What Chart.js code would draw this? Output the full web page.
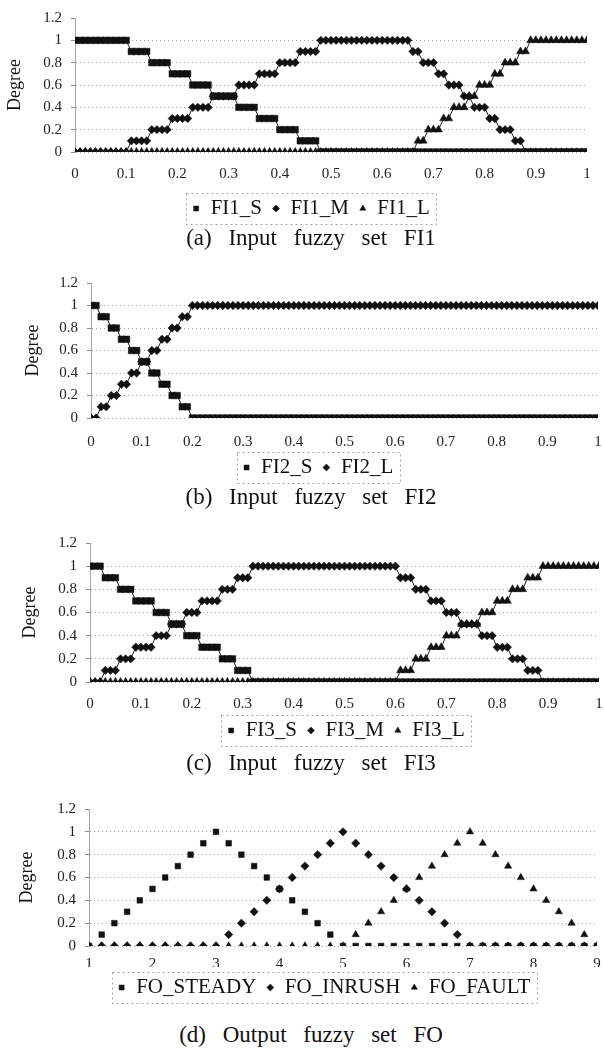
<!DOCTYPE html>
<html><head><meta charset="utf-8">
<script src="https://cdn.jsdelivr.net/npm/chart.js@4.4.1/dist/chart.umd.min.js"></script>
<style>
html,body{margin:0;padding:0;background:#fff;width:604px;height:1052px;overflow:hidden;position:relative;}
canvas{position:absolute;left:0;}
.cap{position:absolute;left:0;width:622px;text-align:center;font-family:"Liberation Serif",serif;font-size:23px;color:#111;word-spacing:11px;white-space:nowrap;line-height:23px;}
</style></head><body>
<canvas id="ca" width="622" height="229" style="top:0px"></canvas>
<canvas id="cb" width="636" height="228" style="top:260px"></canvas>
<canvas id="cc" width="692" height="231" style="top:520px"></canvas>
<canvas id="cd" width="648" height="223" style="top:785px"></canvas>
<div class="cap" style="top:226px">(a) Input fuzzy set FI1</div>
<div class="cap" style="top:485px">(b) Input fuzzy set FI2</div>
<div class="cap" style="top:751px">(c) Input fuzzy set FI3</div>
<div class="cap" style="top:1023px">(d) Output fuzzy set FO</div>
<script>
// ---- data ----
const xFine = [0,0.01,0.02,0.03,0.04,0.05,0.06,0.07,0.08,0.09,
0.1,0.11,0.12,0.13,0.14,0.15,0.16,0.17,0.18,0.19,
0.2,0.21,0.22,0.23,0.24,0.25,0.26,0.27,0.28,0.29,
0.3,0.31,0.32,0.33,0.34,0.35,0.36,0.37,0.38,0.39,
0.4,0.41,0.42,0.43,0.44,0.45,0.46,0.47,0.48,0.49,
0.5,0.51,0.52,0.53,0.54,0.55,0.56,0.57,0.58,0.59,
0.6,0.61,0.62,0.63,0.64,0.65,0.66,0.67,0.68,0.69,
0.7,0.71,0.72,0.73,0.74,0.75,0.76,0.77,0.78,0.79,
0.8,0.81,0.82,0.83,0.84,0.85,0.86,0.87,0.88,0.89,
0.9,0.91,0.92,0.93,0.94,0.95,0.96,0.97,0.98,0.99,
1];

const FI1_S = [1,1,1,1,1,1,1,1,1,1,
1,0.9,0.9,0.9,0.9,0.8,0.8,0.8,0.8,0.7,
0.7,0.7,0.7,0.6,0.6,0.6,0.6,0.5,0.5,0.5,
0.5,0.5,0.4,0.4,0.4,0.4,0.3,0.3,0.3,0.3,
0.2,0.2,0.2,0.2,0.1,0.1,0.1,0.1,0,0,
0,0,0,0,0,0,0,0,0,0,
0,0,0,0,0,0,0,0,0,0,
0,0,0,0,0,0,0,0,0,0,
0,0,0,0,0,0,0,0,0,0,
0,0,0,0,0,0,0,0,0,0,
0];
const FI1_M = [0,0,0,0,0,0,0,0,0,0,
0,0.1,0.1,0.1,0.1,0.2,0.2,0.2,0.2,0.3,
0.3,0.3,0.3,0.4,0.4,0.4,0.4,0.5,0.5,0.5,
0.5,0.5,0.6,0.6,0.6,0.6,0.7,0.7,0.7,0.7,
0.8,0.8,0.8,0.8,0.9,0.9,0.9,0.9,1,1,
1,1,1,1,1,1,1,1,1,1,
1,1,1,1,1,1,0.9,0.9,0.8,0.8,
0.8,0.7,0.7,0.6,0.6,0.6,0.5,0.5,0.4,0.4,
0.4,0.3,0.3,0.2,0.2,0.2,0.1,0.1,0,0,
0,0,0,0,0,0,0,0,0,0,
0];
const FI1_L = [0,0,0,0,0,0,0,0,0,0,
0,0,0,0,0,0,0,0,0,0,
0,0,0,0,0,0,0,0,0,0,
0,0,0,0,0,0,0,0,0,0,
0,0,0,0,0,0,0,0,0,0,
0,0,0,0,0,0,0,0,0,0,
0,0,0,0,0,0,0,0.1,0.1,0.2,
0.2,0.2,0.3,0.3,0.4,0.4,0.4,0.5,0.5,0.6,
0.6,0.6,0.7,0.7,0.8,0.8,0.8,0.9,0.9,1,
1,1,1,1,1,1,1,1,1,1,
1];

const FI2_S = [1,1,0.9,0.9,0.8,0.8,0.7,0.7,0.6,0.6,
0.5,0.5,0.4,0.4,0.3,0.3,0.2,0.2,0.1,0.1,
0,0,0,0,0,0,0,0,0,0,
0,0,0,0,0,0,0,0,0,0,
0,0,0,0,0,0,0,0,0,0,
0,0,0,0,0,0,0,0,0,0,
0,0,0,0,0,0,0,0,0,0,
0,0,0,0,0,0,0,0,0,0,
0,0,0,0,0,0,0,0,0,0,
0,0,0,0,0,0,0,0,0,0,
0];
const FI2_L = [0,0,0.1,0.1,0.2,0.2,0.3,0.3,0.4,0.4,
0.5,0.5,0.6,0.6,0.7,0.7,0.8,0.8,0.9,0.9,
1,1,1,1,1,1,1,1,1,1,
1,1,1,1,1,1,1,1,1,1,
1,1,1,1,1,1,1,1,1,1,
1,1,1,1,1,1,1,1,1,1,
1,1,1,1,1,1,1,1,1,1,
1,1,1,1,1,1,1,1,1,1,
1,1,1,1,1,1,1,1,1,1,
1,1,1,1,1,1,1,1,1,1,
1];

const FI3_S = [1,1,1,0.9,0.9,0.9,0.8,0.8,0.8,0.7,
0.7,0.7,0.7,0.6,0.6,0.6,0.5,0.5,0.5,0.4,
0.4,0.4,0.3,0.3,0.3,0.3,0.2,0.2,0.2,0.1,
0.1,0.1,0,0,0,0,0,0,0,0,
0,0,0,0,0,0,0,0,0,0,
0,0,0,0,0,0,0,0,0,0,
0,0,0,0,0,0,0,0,0,0,
0,0,0,0,0,0,0,0,0,0,
0,0,0,0,0,0,0,0,0,0,
0,0,0,0,0,0,0,0,0,0,
0];
const FI3_M = [0,0,0,0.1,0.1,0.1,0.2,0.2,0.2,0.3,
0.3,0.3,0.3,0.4,0.4,0.4,0.5,0.5,0.5,0.6,
0.6,0.6,0.7,0.7,0.7,0.7,0.8,0.8,0.8,0.9,
0.9,0.9,1,1,1,1,1,1,1,1,
1,1,1,1,1,1,1,1,1,1,
1,1,1,1,1,1,1,1,1,1,
1,0.9,0.9,0.9,0.8,0.8,0.8,0.7,0.7,0.7,
0.6,0.6,0.6,0.5,0.5,0.5,0.5,0.4,0.4,0.4,
0.3,0.3,0.3,0.2,0.2,0.2,0.1,0.1,0.1,0,
0,0,0,0,0,0,0,0,0,0,
0];
const FI3_L = [0,0,0,0,0,0,0,0,0,0,
0,0,0,0,0,0,0,0,0,0,
0,0,0,0,0,0,0,0,0,0,
0,0,0,0,0,0,0,0,0,0,
0,0,0,0,0,0,0,0,0,0,
0,0,0,0,0,0,0,0,0,0,
0,0.1,0.1,0.1,0.2,0.2,0.2,0.3,0.3,0.3,
0.4,0.4,0.4,0.5,0.5,0.5,0.5,0.6,0.6,0.6,
0.7,0.7,0.7,0.8,0.8,0.8,0.9,0.9,0.9,1,
1,1,1,1,1,1,1,1,1,1,
1];

const xFO = [1,1.2,1.4,1.6,1.8,2,2.2,2.4,2.6,2.8,3,3.2,3.4,3.6,3.8,4,4.2,4.4,4.6,4.8,
5,5.2,5.4,5.6,5.8,6,6.2,6.4,6.6,6.8,7,7.2,7.4,7.6,7.8,8,8.2,8.4,8.6,8.8,9];
const FO_STEADY = [0,0.1,0.2,0.3,0.4,0.5,0.6,0.7,0.8,0.9,1,0.9,0.8,0.7,0.6,0.5,0.4,0.3,0.2,0.1,
0,0,0,0,0,0,0,0,0,0,0,0,0,0,0,0,0,0,0,0,0];
const FO_INRUSH = [0,0,0,0,0,0,0,0,0,0,0,0.1,0.2,0.3,0.4,0.5,0.6,0.7,0.8,0.9,
1,0.9,0.8,0.7,0.6,0.5,0.4,0.3,0.2,0.1,0,0,0,0,0,0,0,0,0,0,0];
const FO_FAULT = [0,0,0,0,0,0,0,0,0,0,0,0,0,0,0,0,0,0,0,0,
0,0.1,0.2,0.3,0.4,0.5,0.6,0.7,0.8,0.9,1,0.9,0.8,0.7,0.6,0.5,0.4,0.3,0.2,0.1,0];

const yTicksMin = 0, yTicksMax = 1.2, yStep = 0.2;

// ---- drawing ----
Chart.defaults.font.family = "'Liberation Serif', 'Times New Roman', serif";
Chart.defaults.color = '#111';
Chart.defaults.animation = false;

const markerStyles = [
  {pointStyle: 'rect', pointRadius: 4.6},
  {pointStyle: 'rectRot', pointRadius: 4.2},
  {pointStyle: 'triangle', pointRadius: 4.6}
];

const fmt = v => String(Math.round(v * 10) / 10);

const legendBoxPlugin = {
  id: 'legendBox',
  afterDraw(chart) {
    const lg = chart.legend;
    if (!lg || !lg.legendHitBoxes || !lg.legendHitBoxes.length) return;
    const hb = lg.legendHitBoxes;
    let l = Infinity, r = -Infinity, t = Infinity, b = -Infinity;
    hb.forEach(h => { l = Math.min(l, h.left); r = Math.max(r, h.left + h.width); t = Math.min(t, h.top); b = Math.max(b, h.top + h.height); });
    const c = chart.ctx;
    c.save();
    c.strokeStyle = 'rgba(0,0,0,0.45)';
    c.lineWidth = 0.8;
    c.setLineDash([2, 3]);
    c.strokeRect(Math.round(l - 6) + 0.5, Math.round(t - 5) + 0.5, Math.round(r - l + 12), Math.round(b - t + 10));
    c.restore();
  }
};

function makePanel(id, p) {
  const datasets = p.series.map((s, i) => Object.assign({
    label: s.label,
    data: s.data,
    showLine: p.showLine,
    borderColor: '#222',
    borderWidth: 1,
    backgroundColor: '#111',
    pointBackgroundColor: '#111',
    pointBorderColor: '#111',
    pointBorderWidth: 0.5,
    tension: 0
  }, markerStyles[i], p.markerOverride ? p.markerOverride[i] : {}));
  return new Chart(document.getElementById(id), {
    type: 'line',
    data: { labels: p.x, datasets },
    options: {
      responsive: false,
      events: [],
      layout: { padding: { top: p.padTop, left: 0, right: 0, bottom: 0 } },
      plugins: {
        tooltip: { enabled: false },
        legend: {
          position: 'bottom',
          labels: {
            usePointStyle: true,
            boxWidth: 8,
            boxHeight: 5,
            padding: 10,
            color: '#111',
            font: { size: 21 }
          }
        }
      },
      scales: {
        x: {
          type: 'linear',
          min: p.xMin, max: p.xMax,
          afterFit: s => { s.height = p.xH; },
          grid: { display: false, drawTicks: true, tickLength: 4 },
          border: { display: false },
          ticks: { stepSize: p.xStep, padding: p.xPad, font: { size: 15 }, color: '#222', maxRotation: 0, autoSkip: false, callback: fmt }
        },
        y: {
          min: yTicksMin, max: yTicksMax,
          afterFit: s => { s.width = p.yW; },
          title: { display: true, text: 'Degree', font: { size: 18, lineHeight: 1.2 }, padding: { top: p.titlePad, bottom: 0 }, color: '#111' },
          grid: {
            color: c => (c.tick && c.tick.value > 1.1) ? 'rgba(0,0,0,0)' : 'rgba(0,0,0,0.38)',
            lineWidth: 1,
            tickLength: 4,
            tickColor: 'rgba(0,0,0,0.45)'
          },
          border: { display: true, color: 'rgba(0,0,0,0.35)', dash: [1, 3] },
          ticks: { stepSize: yStep, padding: 9, font: { size: 15 }, color: '#222', callback: fmt }
        },
        yR: {
          position: 'right',
          display: true,
          afterFit: s => { s.width = p.rightW; },
          ticks: { display: false },
          grid: { display: false, drawTicks: false },
          border: { display: false }
        }
      }
    },
    plugins: [legendBoxPlugin]
  });
}

makePanel('ca', {
  x: xFine, xMin: 0, xMax: 1, xStep: 0.1, showLine: true,
  padTop: 15, yW: 75, rightW: 35, xH: 36, xPad: 9, titlePad: 4,
  series: [{label: 'FI1_S', data: FI1_S}, {label: 'FI1_M', data: FI1_M}, {label: 'FI1_L', data: FI1_L}]
});
makePanel('cb', {
  x: xFine, xMin: 0, xMax: 1, xStep: 0.1, showLine: true,
  padTop: 23, yW: 91, rightW: 38, xH: 29, xPad: 11, titlePad: 22,
  series: [{label: 'FI2_S', data: FI2_S}, {label: 'FI2_L', data: FI2_L}]
});
makePanel('cc', {
  x: xFine, xMin: 0, xMax: 1, xStep: 0.1, showLine: true,
  padTop: 23, yW: 90, rightW: 93, xH: 28, xPad: 9, titlePad: 19,
  series: [{label: 'FI3_S', data: FI3_S}, {label: 'FI3_M', data: FI3_M}, {label: 'FI3_L', data: FI3_L}]
});
makePanel('cd', {
  x: xFO, xMin: 1, xMax: 9, xStep: 1, showLine: false,
  padTop: 24, yW: 89, rightW: 51, xH: 21, xPad: 5, titlePad: 16,
  markerOverride: [{pointRadius: 4}, {pointRadius: 4.2}, {pointRadius: 4.2}],
  series: [{label: 'FO_STEADY', data: FO_STEADY}, {label: 'FO_INRUSH', data: FO_INRUSH}, {label: 'FO_FAULT', data: FO_FAULT}]
});
</script>
</body></html>
